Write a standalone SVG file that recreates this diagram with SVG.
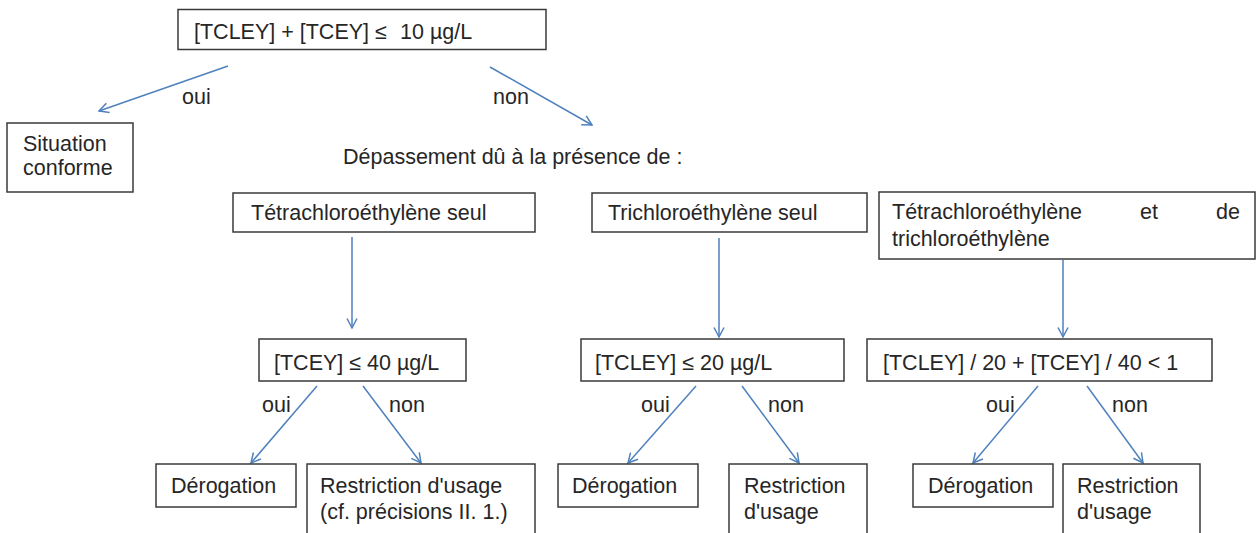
<svg xmlns="http://www.w3.org/2000/svg" width="1256" height="533" viewBox="0 0 1256 533">
<defs>
<style>
.box{fill:#fff;stroke:#3a3a3a;stroke-width:1.5}
.t{font-family:"Liberation Sans",Arial,sans-serif;font-size:21.5px;fill:#262626}
.c{stroke:#4f81bd;stroke-width:1.5;fill:none;marker-end:url(#ah)}
</style>
<marker id="ah" markerUnits="userSpaceOnUse" markerWidth="12" markerHeight="12" viewBox="0 0 12 12" refX="10.5" refY="6" orient="auto">
<path d="M1,1 L10.5,6 L1,11" fill="none" stroke="#4f81bd" stroke-width="1.5"/>
</marker>
</defs>
<rect width="1256" height="533" fill="#fff"/>
<g id="connectors">
<line class="c" x1="228" y1="66" x2="99" y2="111"/>
<line class="c" x1="490" y1="67" x2="592" y2="125"/>
<line class="c" x1="352" y1="237" x2="352" y2="328"/>
<line class="c" x1="719" y1="238" x2="719" y2="337"/>
<line class="c" x1="1063" y1="260" x2="1063" y2="337"/>
<line class="c" x1="317" y1="386" x2="251" y2="463"/>
<line class="c" x1="363" y1="386" x2="421" y2="463"/>
<line class="c" x1="696" y1="386" x2="628" y2="463"/>
<line class="c" x1="742" y1="386" x2="799" y2="463"/>
<line class="c" x1="1038" y1="386" x2="973" y2="463"/>
<line class="c" x1="1087" y1="386" x2="1143" y2="463"/>
<text class="t" x="182" y="104">oui</text>
<text class="t" x="493" y="104">non</text>
<text class="t" x="262" y="412">oui</text>
<text class="t" x="389" y="412">non</text>
<text class="t" x="641" y="412">oui</text>
<text class="t" x="768" y="412">non</text>
<text class="t" x="986" y="412">oui</text>
<text class="t" x="1112" y="412">non</text>
</g>
<g id="n-top">
<rect class="box" x="178" y="9.5" width="368" height="40"/>
<text class="t" x="194" y="39">[TCLEY] + [TCEY] ≤<tspan x="400">10 µg/L</tspan></text>
</g>
<g id="n-conforme">
<rect class="box" x="7" y="123" width="126" height="69"/>
<text class="t" x="23" y="151">Situation</text>
<text class="t" x="23" y="175">conforme</text>
</g>
<text id="n-depassement" class="t" x="343" y="164">Dépassement dû à la présence de :</text>
<g id="n-tetra">
<rect class="box" x="233" y="193" width="302" height="39"/>
<text class="t" x="251" y="220">Tétrachloroéthylène seul</text>
</g>
<g id="n-tri">
<rect class="box" x="592" y="193" width="275" height="39"/>
<text class="t" x="608" y="220">Trichloroéthylène seul</text>
</g>
<g id="n-both">
<rect class="box" x="879" y="192" width="376" height="67"/>
<text class="t" x="892" y="219">Tétrachloroéthylène<tspan x="1140">et</tspan><tspan x="1216">de</tspan></text>
<text class="t" x="892" y="246">trichloroéthylène</text>
</g>
<g id="n-tcey40">
<rect class="box" x="259" y="339" width="207" height="42"/>
<text class="t" x="274" y="370">[TCEY] ≤ 40 µg/L</text>
</g>
<g id="n-tcley20">
<rect class="box" x="581" y="339" width="263" height="42"/>
<text class="t" x="595" y="370">[TCLEY] ≤ 20 µg/L</text>
</g>
<g id="n-formula">
<rect class="box" x="867" y="339" width="345" height="42"/>
<text class="t" x="883" y="370">[TCLEY] / 20 + [TCEY] / 40 &lt; 1</text>
</g>
<g id="n-derog1">
<rect class="box" x="156" y="464" width="140" height="43"/>
<text class="t" x="171" y="493">Dérogation</text>
</g>
<g id="n-restr1">
<rect class="box" x="307" y="464" width="228" height="80"/>
<text class="t" x="320" y="493">Restriction d'usage</text>
<text class="t" x="320" y="519">(cf. précisions II. 1.)</text>
</g>
<g id="n-derog2">
<rect class="box" x="558" y="464" width="140" height="43"/>
<text class="t" x="572" y="493">Dérogation</text>
</g>
<g id="n-restr2">
<rect class="box" x="729" y="464" width="138" height="80"/>
<text class="t" x="744" y="493">Restriction</text>
<text class="t" x="744" y="519">d'usage</text>
</g>
<g id="n-derog3">
<rect class="box" x="913" y="464" width="140" height="43"/>
<text class="t" x="928" y="493">Dérogation</text>
</g>
<g id="n-restr3">
<rect class="box" x="1063" y="464" width="137" height="80"/>
<text class="t" x="1077" y="493">Restriction</text>
<text class="t" x="1077" y="519">d'usage</text>
</g>
</svg>
